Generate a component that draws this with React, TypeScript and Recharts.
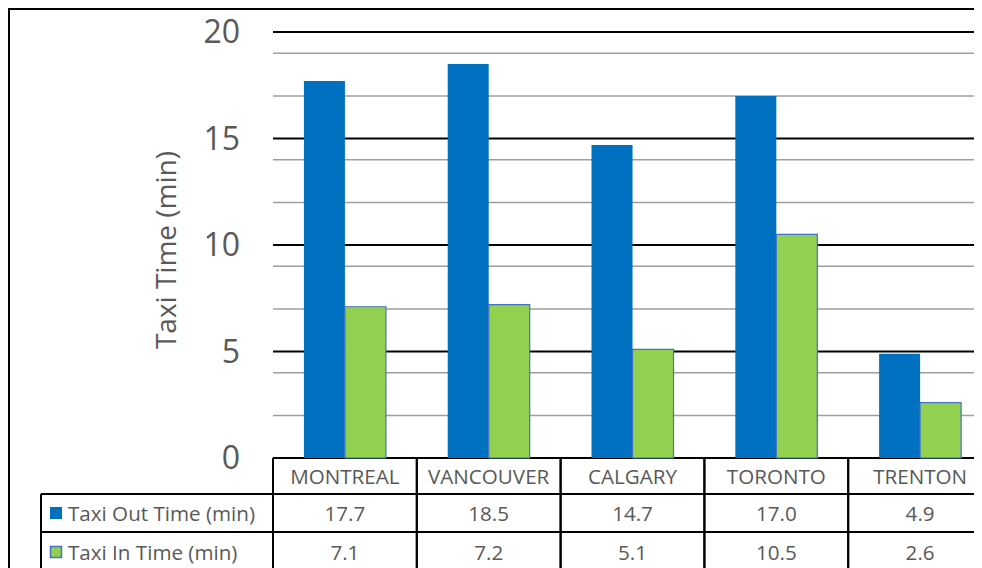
import { Bar, BarChart, CartesianGrid, XAxis, YAxis } from 'recharts';

const categories = ['MONTREAL', 'VANCOUVER', 'CALGARY', 'TORONTO', 'TRENTON'];
const taxiOut = [17.7, 18.5, 14.7, 17.0, 4.9];
const taxiIn = [7.1, 7.2, 5.1, 10.5, 2.6];
const seriesNames = ['Taxi Out Time (min)', 'Taxi In Time (min)'];
const majorTicks = [0, 5, 10, 15, 20];
const minorTicks = [1, 2, 3, 4, 6, 7, 8, 9, 11, 12, 13, 14, 16, 17, 18, 19];

const data = categories.map((c, i) => ({ city: c, out: taxiOut[i], in: taxiIn[i] }));

const FONT = '"Open Sans", sans-serif';
const TEXT = '#595959';
const BLUE = '#0070C0';
const GREEN = '#92D050';
const KEY_BORDER = '#4472C4';

const CHART_W = 990;
const CHART_H = 570;
const Y_AXIS_W = 120;
const MARGIN = { top: 22, right: 8, left: 143, bottom: 0 };
const PLOT_W = CHART_W - MARGIN.left - MARGIN.right - Y_AXIS_W;
const CELL_W = PLOT_W / categories.length;
const LEGEND_LEFT = 31;
const ROWS = [0, 36, 74, 114];

function TableTick(props: any) {
  const { x, y, payload, index } = props;
  const left = x - CELL_W / 2;
  const right = x + CELL_W / 2;
  const bottom = y + ROWS[3];
  const rowMid = (r: number) => y + (ROWS[r] + ROWS[r + 1]) / 2;
  const line = { stroke: '#000', strokeWidth: 2 };
  const txt = { fontFamily: FONT, fontSize: 20.6, fill: TEXT, dominantBaseline: 'central' as const };
  return (
    <g>
      {index === 0 && (
        <g>
          <line x1={LEGEND_LEFT} x2={left} y1={y + ROWS[1]} y2={y + ROWS[1]} {...line} />
          <line x1={LEGEND_LEFT} x2={left} y1={y + ROWS[2]} y2={y + ROWS[2]} {...line} />
          <line x1={LEGEND_LEFT} x2={LEGEND_LEFT} y1={y + ROWS[1]} y2={bottom} {...line} />
          <rect x={LEGEND_LEFT + 9} y={rowMid(1) - 6} width={12} height={12} fill={BLUE} />
          <text x={LEGEND_LEFT + 27} y={rowMid(1)} {...txt}>{seriesNames[0]}</text>
          <rect x={LEGEND_LEFT + 9.5} y={rowMid(2) - 5.5} width={11} height={11} fill={GREEN} stroke={KEY_BORDER} strokeWidth={1.5} />
          <text x={LEGEND_LEFT + 27} y={rowMid(2)} {...txt}>{seriesNames[1]}</text>
        </g>
      )}
      <line x1={left} x2={left} y1={y} y2={bottom} {...line} />
      <line x1={right} x2={right} y1={y} y2={bottom} {...line} />
      <line x1={left} x2={right} y1={y + ROWS[1]} y2={y + ROWS[1]} {...line} />
      <line x1={left} x2={right} y1={y + ROWS[2]} y2={y + ROWS[2]} {...line} />
      <text x={x} y={rowMid(0)} textAnchor="middle" {...txt}>{payload.value}</text>
      <text x={x} y={rowMid(1)} textAnchor="middle" {...txt}>{taxiOut[index].toFixed(1)}</text>
      <text x={x} y={rowMid(2)} textAnchor="middle" {...txt}>{taxiIn[index].toFixed(1)}</text>
    </g>
  );
}

function AxisTitle({ viewBox }: any) {
  const cx = viewBox.x + 12;
  const cy = viewBox.y + viewBox.height / 2 + 5;
  return (
    <text
      x={cx}
      y={cy}
      transform={`rotate(-90 ${cx} ${cy})`}
      textAnchor="middle"
      dominantBaseline="central"
      fontFamily={FONT}
      fontSize={28}
      fill={TEXT}
    >
      Taxi Time (min)
    </text>
  );
}

export default function App() {
  return (
    <div style={{ width: 974, height: 560, overflow: 'hidden', background: '#fff' }}>
      <div style={{ width: 1010, height: 600, border: '2px solid #000', boxSizing: 'border-box', background: '#fff' }}>
        <BarChart width={CHART_W} height={CHART_H} data={data} margin={MARGIN} barCategoryGap="21.5%" barGap={0}>
          <CartesianGrid horizontalValues={minorTicks} vertical={false} stroke="#9E9E9E" strokeWidth={1.5} />
          <CartesianGrid horizontalValues={majorTicks} vertical={false} stroke="#000" strokeWidth={2} />
          <XAxis
            dataKey="city"
            height={CHART_H - MARGIN.top - 426}
            axisLine={false}
            tickLine={false}
            tickSize={0}
            tickMargin={0}
            interval={0}
            tick={<TableTick />}
          />
          <YAxis
            domain={[0, 20]}
            ticks={majorTicks}
            width={Y_AXIS_W}
            axisLine={false}
            tickLine={false}
            tickSize={0}
            tickMargin={33}
            tick={{ fontFamily: FONT, fontSize: 32, fill: TEXT }}
            label={<AxisTitle />}
          />
          <Bar dataKey="out" name={seriesNames[0]} fill={BLUE} isAnimationActive={false} />
          <Bar dataKey="in" name={seriesNames[1]} fill={GREEN} stroke={KEY_BORDER} strokeWidth={1.2} isAnimationActive={false} />
        </BarChart>
      </div>
    </div>
  );
}
